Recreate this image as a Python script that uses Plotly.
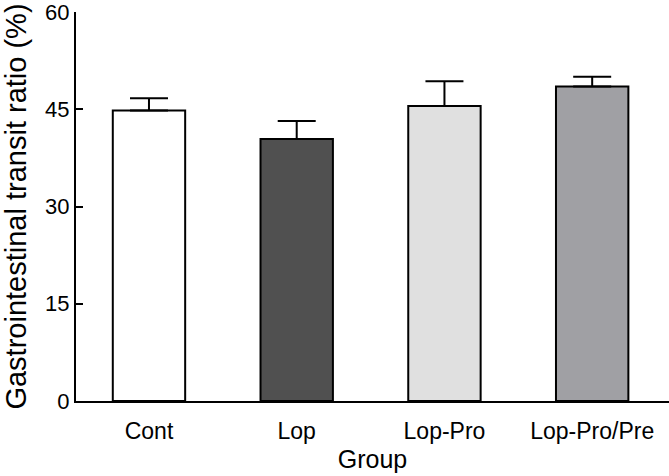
import plotly.graph_objects as go

groups = ["Cont", "Lop", "Lop-Pro", "Lop-Pro/Pre"]
means = [44.8, 40.4, 45.5, 48.5]
sems = [1.9, 2.8, 3.8, 1.5]
colors = ["#ffffff", "#505050", "#e0e0e0", "#a0a0a4"]
y_ticks = [0, 15, 30, 45, 60]

fig = go.Figure(
    go.Bar(
        x=groups,
        y=means,
        width=0.49,
        marker=dict(color=colors, line=dict(color="#000000", width=2)),
        error_y=dict(
            type="data",
            array=sems,
            arrayminus=[0] * len(sems),
            symmetric=False,
            color="#000000",
            thickness=2,
            width=19,
        ),
    )
)

font_family = "Liberation Sans, Arial, sans-serif"

fig.update_layout(
    width=669,
    height=476,
    margin=dict(l=76, r=0, t=11.5, b=74.5, autoexpand=False),
    paper_bgcolor="#ffffff",
    plot_bgcolor="#ffffff",
    showlegend=False,
    font=dict(family=font_family, color="#000000"),
    xaxis=dict(
        range=[-0.494, 3.52],
        automargin=False,
        showline=True,
        linecolor="#000000",
        linewidth=2,
        ticks="",
        showgrid=False,
        zeroline=False,
        tickfont=dict(size=23, family=font_family, color="#000000"),
        ticklabelstandoff=8,
        title=dict(text="Group", font=dict(size=25, family=font_family, color="#000000"), standoff=8),
    ),
    yaxis=dict(
        range=[0, 60],
        tickvals=y_ticks,
        automargin=False,
        ticklabeloverflow="allow",
        showline=True,
        linecolor="#000000",
        linewidth=2,
        ticks="inside",
        ticklen=7,
        tickwidth=2,
        tickcolor="#000000",
        showgrid=False,
        zeroline=False,
        tickfont=dict(size=22, family=font_family, color="#000000"),
        title=dict(text="Gastrointestinal transit ratio (%)", font=dict(size=29, family=font_family, color="#000000"), standoff=14),
    ),
)

fig.write_html(
    "out.html",
    config={"displayModeBar": False},
    post_script="document.body.style.margin='0';document.body.style.padding='0';",
)
